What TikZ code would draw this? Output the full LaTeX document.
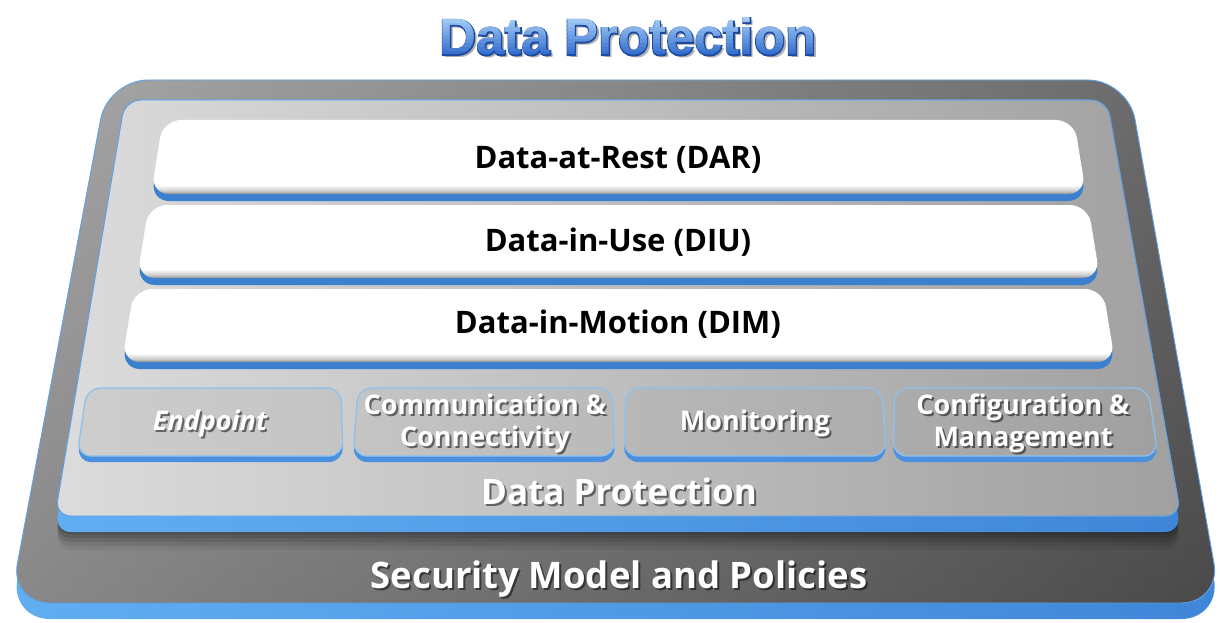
\documentclass[tikz,border=0pt]{standalone}
\usepackage{fontspec}
\setmainfont{Open Sans}
\newfontfamily\titlefont{Liberation Sans}
\newfontfamily\titleoutline{Liberation Sans}[FakeBold=4]

\definecolor{outerL}{HTML}{9C9C9C}
\definecolor{outerR}{HTML}{545454}
\definecolor{innerL}{HTML}{DCDCDC}
\definecolor{innerR}{HTML}{A0A0A0}
\definecolor{sideL}{HTML}{62AEF2}
\definecolor{sideR}{HTML}{3F86D8}
\definecolor{edgeblue}{HTML}{5CA3EA}
\definecolor{barblue}{HTML}{3B7FCF}
\definecolor{boxblue}{HTML}{4A90DE}
\definecolor{boxline}{HTML}{8CC1F0}
\definecolor{bevelA}{HTML}{8C8C8C}
\definecolor{bevelB}{HTML}{C9C9C9}
\definecolor{tlight}{HTML}{B8DEFB}
\definecolor{tdark}{HTML}{2A64CA}
\definecolor{tedge}{HTML}{1D4A9E}

% white bars: white face that turns grey on the lower rounded edge
\pgfdeclareverticalshading{barshade}{100bp}{%
  color(0bp)=(bevelA); color(25bp)=(bevelA); color(27bp)=(bevelB);
  color(31bp)=(white); color(100bp)=(white)}

\begin{document}
\begin{tikzpicture}[x=1pt,y=-1pt,
  trapz/.style n args={6}{insert path={(#3,#1) -- (#4,#1) -- (#6,#2) -- (#5,#2) -- cycle}},
  titletxt/.style={font=\titlefont\bfseries\fontsize{51}{60}\selectfont, inner sep=0pt, anchor=base},
  bartxt/.style={font=\bfseries\fontsize{31}{36}\selectfont, text=black, inner sep=0pt, anchor=base},
  boxtxt/.style={font=\bfseries\fontsize{27}{32}\selectfont, text=white, inner sep=0pt, anchor=base},
  boxsh/.style={boxtxt, text=black, opacity=0.5},
  bigtxt/.style={font=\bfseries\fontsize{35}{40}\selectfont, text=white, inner sep=0pt, anchor=base},
  bigsh/.style={bigtxt, text=black, opacity=0.5},
  hugetxt/.style={bigtxt, font=\bfseries\fontsize{36.5}{42}\selectfont},
  hugesh/.style={hugetxt, text=black, opacity=0.5},
]
\useasboundingbox (0,0) rectangle (1220,623);

% ---------------- outer slab: Security Model and Policies
\shade[rounded corners=40, left color=sideL, right color=sideR, yshift=-16,
  trapz={80}{603}{108}{1128}{10}{1221}];
\shade[rounded corners=40, left color=outerL, right color=outerR,
  trapz={80}{603}{108}{1128}{10}{1221}];
\shade[rounded corners=40, top color=white, bottom color=black, fill opacity=0.12,
  trapz={80}{603}{108}{1128}{10}{1221}];
\draw[rounded corners=40, edgeblue, line width=0.9,
  trapz={80}{603}{108}{1128}{10}{1221}];

% soft shadow cast by the inner slab
\foreach \s/\o in {18/0.14,22/0.12,26/0.10,30/0.08,34/0.05}{
  \fill[black, opacity=\o, rounded corners=16, yshift=-\s,
    trapz={100}{516}{125}{1107}{55}{1181}];
}

% ---------------- inner slab: Data Protection
\shade[rounded corners=16, left color=sideL, right color=sideR, yshift=-16,
  trapz={100}{516}{125}{1107}{55}{1181}];
\shade[rounded corners=16, left color=innerL, right color=innerR,
  trapz={100}{516}{125}{1107}{55}{1181}];
\draw[rounded corners=16, edgeblue, line width=1,
  trapz={100}{516}{125}{1107}{55}{1181}];

% ---------------- white bars
\foreach \yt/\yb/\xtl/\xtr/\xbl/\xbr in
  {120/194/163/1074/151/1086, 205/278/149/1088/137/1100, 289/362/134/1103/122/1115}{
  \fill[barblue, rounded corners=18, yshift=-7, trapz={\yt}{\yb}{\xtl}{\xtr}{\xbl}{\xbr}];
  \shade[shading=barshade, rounded corners=18, trapz={\yt}{\yb}{\xtl}{\xtr}{\xbl}{\xbr}];
}
\node[bartxt] (dar) at (618,168) {Data-at-Rest (DAR)};
\node[bartxt] (diu) at (618,251) {Data-in-Use (DIU)};
\node[bartxt] (dim) at (618,333) {Data-in-Motion (DIM)};

% ---------------- component boxes
\foreach \xtl/\xtr/\xbl/\xbr/\cl/\cr in
  {87/341/77/343/CDCDCD/C4C4C4, 358/612/353/615/C4C4C4/BABABA,
   626/882/624/886/B8B8B8/ADADAD, 895/1148/893/1158/ACACAC/A0A0A0}{
  \definecolor{bl}{HTML}{\cl}\definecolor{br}{HTML}{\cr}
  \fill[boxblue, rounded corners=14, yshift=-6, trapz={388}{456}{\xtl}{\xtr}{\xbl}{\xbr}];
  \shade[left color=bl, right color=br, rounded corners=14, trapz={388}{456}{\xtl}{\xtr}{\xbl}{\xbr}];
  \draw[boxline, line width=1.3, rounded corners=14, trapz={388}{456}{\xtl}{\xtr}{\xbl}{\xbr}];
}
\node[boxsh] (ep-s) at (212,432) {\itshape Endpoint};
\node[boxtxt] (ep) at (210,430) {\itshape Endpoint};
\node[boxsh] (cc1-s) at (487,416) {Communication \&};
\node[boxtxt] (cc1) at (485,414) {Communication \&};
\node[boxsh] (cc2-s) at (487,448) {Connectivity};
\node[boxtxt] (cc2) at (485,446) {Connectivity};
\node[boxsh] (mon-s) at (757,432) {Monitoring};
\node[boxtxt] (mon) at (755,430) {Monitoring};
\node[boxsh] (cm1-s) at (1025,416) {Configuration \&};
\node[boxtxt] (cm1) at (1023,414) {Configuration \&};
\node[boxsh] (cm2-s) at (1025,448) {Management};
\node[boxtxt] (cm2) at (1023,446) {Management};

% ---------------- slab captions
\node[bigsh] (dp-s) at (621,506) {Data Protection};
\node[bigtxt] (dp) at (619,504) {Data Protection};
\node[hugesh] (sm-s) at (621,590) {Security Model and Policies};
\node[hugetxt] (sm) at (619,588) {Security Model and Policies};

% ---------------- heading: shadow, dark rim, then blue letters in horizontal bands
\node[titletxt, text=black, opacity=0.3] (title-s) at (631,58) {Data Protection};
\node[titletxt, font=\titleoutline\bfseries\fontsize{51}{60}\selectfont, text=tedge] (title-o) at (628,55) {Data Protection};
\foreach \i in {0,...,11}{
  \pgfmathsetmacro\ya{12+\i*4}
  \pgfmathsetmacro\yb{\ya+4.4}
  \pgfmathtruncatemacro\pc{100-\i*9}
  \colorlet{tc}{tlight!\pc!tdark}
  \begin{scope}
    \clip (420,\ya) rectangle (840,\yb);
    \node[titletxt, text=tc] (title-g\i) at (628,55) {Data Protection};
  \end{scope}
}
\end{tikzpicture}
\end{document}
